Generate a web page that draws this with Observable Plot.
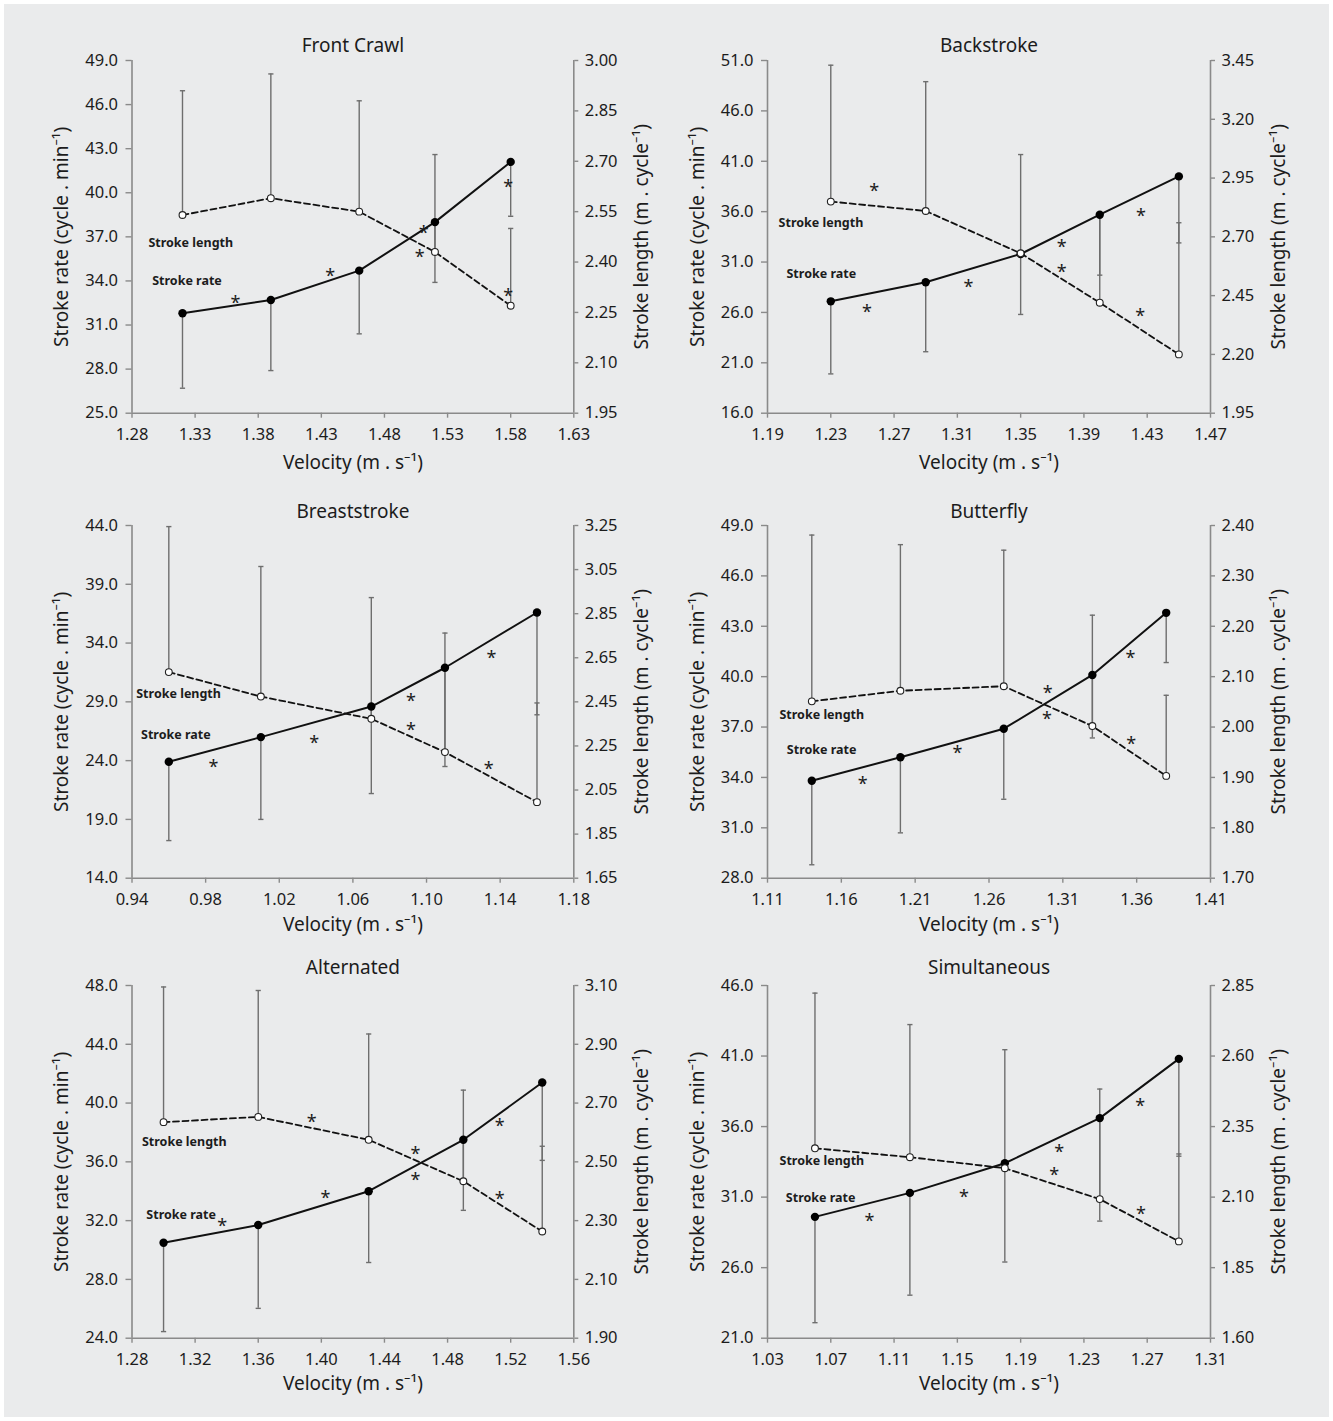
<!DOCTYPE html>
<html><head><meta charset="utf-8">
<script src="https://cdn.jsdelivr.net/npm/d3@7"></script>
<script src="https://cdn.jsdelivr.net/npm/@observablehq/plot@0.6"></script>
<style>
body{margin:0;background:#fff;}
#fig{position:relative;width:1333px;height:1421px;background:#fff;overflow:hidden;}
#bg{position:absolute;left:4px;top:4px;width:1325px;height:1413px;background:#eaebec;}
.panel{position:absolute;}
</style></head><body><div id="fig"><div id="bg"></div></div>
<script>
// ---------- DATA ----------
const seriesLabels = ["Stroke length", "Stroke rate"];
const xLabel = "Velocity (m . s\u207B\u00B9)";
const rateLabel = "Stroke rate (cycle . min\u207B\u00B9)";
const lengthLabel = "Stroke length (m . cycle\u207B\u00B9)";

// Front Crawl
const crawlVelocity = [1.32, 1.39, 1.46, 1.52, 1.58];
const crawlRate = [31.8, 32.7, 34.7, 38.0, 42.1];
const crawlRateSD = [5.1, 4.8, 4.3, 4.1, 3.7];
const crawlLength = [2.54, 2.59, 2.55, 2.43, 2.27];
const crawlLengthSD = [0.37, 0.37, 0.33, 0.29, 0.23];
const crawlXTicks = [1.28, 1.33, 1.38, 1.43, 1.48, 1.53, 1.58, 1.63];
const crawlRateTicks = [25, 28, 31, 34, 37, 40, 43, 46, 49];
const crawlLengthTicks = [1.95, 2.10, 2.25, 2.40, 2.55, 2.70, 2.85, 3.00];
const crawlStarX = [1.362, 1.437, 1.511, 1.508, 1.578, 1.578];
const crawlStarY = [32.85, 34.66, 37.59, 35.95, 40.72, 33.3];
const crawlLabelX = [1.293, 1.296];
const crawlLabelY = [36.6, 34.0];

// Backstroke
const backVelocity = [1.23, 1.29, 1.35, 1.40, 1.45];
const backRate = [27.1, 29.0, 31.8, 35.7, 39.5];
const backRateSD = [7.2, 6.9, 6.0, 6.0, 6.6];
const backLength = [2.85, 2.81, 2.63, 2.42, 2.20];
const backLengthSD = [0.58, 0.55, 0.42, 0.37, 0.56];
const backXTicks = [1.19, 1.23, 1.27, 1.31, 1.35, 1.39, 1.43, 1.47];
const backRateTicks = [16, 21, 26, 31, 36, 41, 46, 51];
const backLengthTicks = [1.95, 2.20, 2.45, 2.70, 2.95, 3.20, 3.45];
const backStarX = [1.2575, 1.2528, 1.317, 1.376, 1.376, 1.426, 1.4255];
const backStarY = [38.5, 26.5, 29.0, 33.0, 30.5, 36.0, 26.1];
const backLabelX = [1.197, 1.202];
const backLabelY = [34.9, 29.8];

// Breaststroke
const breastVelocity = [0.96, 1.01, 1.07, 1.11, 1.16];
const breastRate = [23.9, 26.0, 28.6, 31.9, 36.6];
const breastRateSD = [6.7, 7.0, 7.4, 8.4, 8.7];
const breastLength = [2.585, 2.474, 2.373, 2.222, 1.995];
const breastLengthSD = [0.66, 0.59, 0.55, 0.54, 0.45];
const breastXTicks = [0.94, 0.98, 1.02, 1.06, 1.10, 1.14, 1.18];
const breastRateTicks = [14, 19, 24, 29, 34, 39, 44];
const breastLengthTicks = [1.65, 1.85, 2.05, 2.25, 2.45, 2.65, 2.85, 3.05, 3.25];
const breastStarX = [0.9843, 1.039, 1.0916, 1.0916, 1.1353, 1.1338];
const breastStarY = [23.87, 25.9, 29.45, 27.05, 33.14, 23.73];
const breastLabelX = [0.9423, 0.9449];
const breastLabelY = [29.68, 26.2];

// Butterfly
const flyVelocity = [1.14, 1.20, 1.27, 1.33, 1.38];
const flyRate = [33.8, 35.2, 36.9, 40.1, 43.8];
const flyRateSD = [5.0, 4.5, 4.2, 3.75, 2.96];
const flyLength = [2.051, 2.072, 2.081, 2.002, 1.903];
const flyLengthSD = [0.33, 0.29, 0.27, 0.22, 0.16];
const flyXTicks = [1.11, 1.16, 1.21, 1.26, 1.31, 1.36, 1.41];
const flyRateTicks = [28, 31, 34, 37, 40, 43, 46, 49];
const flyLengthTicks = [1.70, 1.80, 1.90, 2.00, 2.10, 2.20, 2.30, 2.40];
const flyStarX = [1.1744, 1.2386, 1.2998, 1.2993, 1.3558, 1.3563];
const flyStarY = [33.88, 35.76, 39.34, 37.75, 41.4, 36.26];
const flyLabelX = [1.1181, 1.1231];
const flyLabelY = [37.69, 35.65];

// Alternated
const altVelocity = [1.30, 1.36, 1.43, 1.49, 1.54];
const altRate = [30.5, 31.7, 34.0, 37.5, 41.4];
const altRateSD = [6.05, 5.67, 4.85, 4.8, 5.3];
const altLength = [2.635, 2.653, 2.575, 2.434, 2.263];
const altLengthSD = [0.46, 0.43, 0.36, 0.31, 0.29];
const altXTicks = [1.28, 1.32, 1.36, 1.40, 1.44, 1.48, 1.52, 1.56];
const altRateTicks = [24, 28, 32, 36, 40, 44, 48];
const altLengthTicks = [1.90, 2.10, 2.30, 2.50, 2.70, 2.90, 3.10];
const altStarX = [1.3939, 1.3371, 1.4026, 1.4596, 1.4596, 1.5131, 1.5131];
const altStarY = [39.04, 31.96, 33.87, 36.89, 35.12, 38.77, 33.83];
const altLabelX = [1.2863, 1.2891];
const altLabelY = [37.38, 32.4];

// Simultaneous
const simVelocity = [1.06, 1.12, 1.18, 1.24, 1.29];
const simRate = [29.6, 31.3, 33.4, 36.6, 40.8];
const simRateSD = [7.5, 7.25, 7.0, 7.3, 6.9];
const simLength = [2.273, 2.2415, 2.2025, 2.093, 1.943];
const simLengthSD = [0.55, 0.47, 0.42, 0.39, 0.31];
const simXTicks = [1.03, 1.07, 1.11, 1.15, 1.19, 1.23, 1.27, 1.31];
const simRateTicks = [21, 26, 31, 36, 41, 46];
const simLengthTicks = [1.60, 1.85, 2.10, 2.35, 2.60, 2.85];
const simStarX = [1.0944, 1.1542, 1.2144, 1.2112, 1.2656, 1.266];
const simStarY = [29.63, 31.35, 34.54, 32.94, 37.8, 30.17];
const simLabelX = [1.0376, 1.0416];
const simLabelY = [33.53, 30.95];

// ---------- PANELS ----------
const panels = [
  {title: "Front Crawl", v: crawlVelocity, rate: crawlRate, rateSD: crawlRateSD, len: crawlLength, lenSD: crawlLengthSD,
   xTicks: crawlXTicks, rateTicks: crawlRateTicks, lenTicks: crawlLengthTicks, starX: crawlStarX, starY: crawlStarY, labX: crawlLabelX, labY: crawlLabelY},
  {title: "Backstroke", v: backVelocity, rate: backRate, rateSD: backRateSD, len: backLength, lenSD: backLengthSD,
   xTicks: backXTicks, rateTicks: backRateTicks, lenTicks: backLengthTicks, starX: backStarX, starY: backStarY, labX: backLabelX, labY: backLabelY},
  {title: "Breaststroke", v: breastVelocity, rate: breastRate, rateSD: breastRateSD, len: breastLength, lenSD: breastLengthSD,
   xTicks: breastXTicks, rateTicks: breastRateTicks, lenTicks: breastLengthTicks, starX: breastStarX, starY: breastStarY, labX: breastLabelX, labY: breastLabelY},
  {title: "Butterfly", v: flyVelocity, rate: flyRate, rateSD: flyRateSD, len: flyLength, lenSD: flyLengthSD,
   xTicks: flyXTicks, rateTicks: flyRateTicks, lenTicks: flyLengthTicks, starX: flyStarX, starY: flyStarY, labX: flyLabelX, labY: flyLabelY},
  {title: "Alternated", v: altVelocity, rate: altRate, rateSD: altRateSD, len: altLength, lenSD: altLengthSD,
   xTicks: altXTicks, rateTicks: altRateTicks, lenTicks: altLengthTicks, starX: altStarX, starY: altStarY, labX: altLabelX, labY: altLabelY},
  {title: "Simultaneous", v: simVelocity, rate: simRate, rateSD: simRateSD, len: simLength, lenSD: simLengthSD,
   xTicks: simXTicks, rateTicks: simRateTicks, lenTicks: simLengthTicks, starX: simStarX, starY: simStarY, labX: simLabelX, labY: simLabelY}
];

// layout
const colLeft = [0, 666], colWidth = [666, 667], colML = [131.5, 101], colMR = [92.7, 123];
const rowTop = [0, 480, 940], rowHeight = [480, 460, 481], rowMT = [60, 45, 45], rowMB = [67.3, 62.3, 83.3];
const rowXLabelDy = [50, 47, 46], rowTitleDy = [-15, -14, -18];

const FONT = "'Noto Sans', 'Open Sans', sans-serif";
const AXIS = "#8a8a8a", BAR = "#6e6e6e", INK = "#1c1c1c";
const cap = {draw(ctx, size) { const r = Math.sqrt(size / Math.PI); ctx.moveTo(-r, 0); ctx.lineTo(r, 0); }};

const fig = document.getElementById("fig");

panels.forEach((p, k) => {
  const col = k % 2, row = Math.floor(k / 2);
  const xlo = p.xTicks[0], xhi = p.xTicks[p.xTicks.length - 1];
  const ylo = p.rateTicks[0], yhi = p.rateTicks[p.rateTicks.length - 1];
  const llo = p.lenTicks[0], lhi = p.lenTicks[p.lenTicks.length - 1];
  const toL = v => ylo + (v - llo) / (lhi - llo) * (yhi - ylo);
  const fromL = y => llo + (y - ylo) / (yhi - ylo) * (lhi - llo);
  const rows = p.v.map((v, i) => ({
    v, sr: p.rate[i], srLow: p.rate[i] - p.rateSD[i],
    sl: toL(p.len[i]), slHigh: toL(p.len[i] + p.lenSD[i])
  }));
  const stars = p.starX.map((x, i) => ({x, y: p.starY[i]}));
  const labs = p.labX.map((x, i) => ({x, y: p.labY[i], t: seriesLabels[i]}));

  const chart = Plot.plot({
    width: colWidth[col], height: rowHeight[row],
    marginLeft: colML[col], marginRight: colMR[col], marginTop: rowMT[row], marginBottom: rowMB[row],
    x: {domain: [xlo, xhi]},
    y: {domain: [ylo, yhi]},
    style: {background: "transparent", fontFamily: FONT, fontSize: "16.5px", color: INK, overflow: "visible"},
    marks: [
      // error bars
      Plot.ruleX(rows, {x: "v", y1: "sr", y2: "srLow", stroke: BAR, strokeWidth: 1.4}),
      Plot.ruleX(rows, {x: "v", y1: "sl", y2: "slHigh", stroke: BAR, strokeWidth: 1.4}),
      Plot.dot(rows, {x: "v", y: "srLow", symbol: cap, r: 2.6, stroke: BAR, strokeWidth: 1.4, fill: "none"}),
      Plot.dot(rows, {x: "v", y: "slHigh", symbol: cap, r: 2.6, stroke: BAR, strokeWidth: 1.4, fill: "none"}),
      // axis lines
      Plot.ruleX([xlo, xhi], {stroke: AXIS, strokeWidth: 1.6}),
      Plot.ruleY([ylo], {stroke: AXIS, strokeWidth: 1.6}),
      // axes
      Plot.axisX(p.xTicks, {anchor: "bottom", tickSize: 5, tickPadding: 10, tickFormat: d => d.toFixed(2), label: null, stroke: AXIS, strokeWidth: 1.4, fill: INK}),
      Plot.axisY(p.rateTicks, {anchor: "left", tickSize: 6, tickPadding: 8, tickFormat: d => d.toFixed(1), label: null, stroke: AXIS, strokeWidth: 1.4, fill: INK}),
      Plot.axisY(p.lenTicks.map(toL), {anchor: "right", tickSize: 4, tickPadding: 7, tickFormat: d => fromL(d).toFixed(2), label: null, stroke: AXIS, strokeWidth: 1.4, fill: INK}),
      // lines
      Plot.line(rows, {x: "v", y: "sl", stroke: "#111", strokeWidth: 1.8, strokeDasharray: "6,3.5"}),
      Plot.line(rows, {x: "v", y: "sr", stroke: "#111", strokeWidth: 2}),
      // markers
      Plot.dot(rows, {x: "v", y: "sr", r: 4.2, fill: "#000", stroke: "none"}),
      Plot.dot(rows, {x: "v", y: "sl", r: 3.4, fill: "#fff", stroke: "#222", strokeWidth: 1.1}),
      // asterisks and series labels
      Plot.text(stars, {x: "x", y: "y", text: () => "*", fontSize: 18, dy: 5, fill: INK}),
      Plot.text(labs, {x: "x", y: "y", text: "t", textAnchor: "start", fontWeight: "bold", fontSize: 12.5, fill: INK}),
      // titles and axis labels
      Plot.text([p.title], {frameAnchor: "top", lineAnchor: "middle", dy: rowTitleDy[row], fontSize: 19, fill: INK}),
      Plot.text([xLabel], {frameAnchor: "bottom", lineAnchor: "middle", dy: rowXLabelDy[row], fontSize: 19, fill: INK}),
      Plot.text([rateLabel], {frameAnchor: "left", textAnchor: "middle", lineAnchor: "middle", dx: -70, rotate: -90, fontSize: 19, fill: INK}),
      Plot.text([lengthLabel], {frameAnchor: "right", textAnchor: "middle", lineAnchor: "middle", dx: 68, rotate: -90, fontSize: 19, fill: INK})
    ]
  });
  chart.classList.add("panel");
  chart.style.left = colLeft[col] + "px";
  chart.style.top = rowTop[row] + "px";
  chart.style.maxWidth = "none";
  fig.appendChild(chart);
});
</script>
</body></html>
